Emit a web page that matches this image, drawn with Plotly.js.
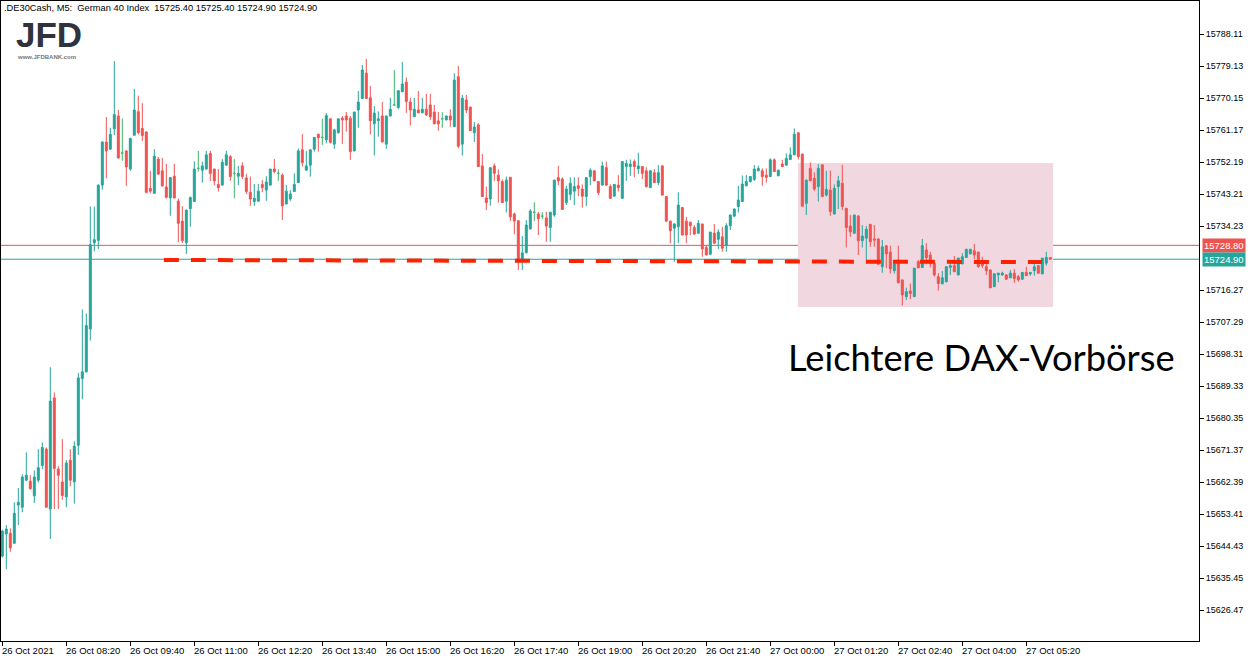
<!DOCTYPE html>
<html>
<head>
<meta charset="utf-8">
<script src="https://cdn.plot.ly/plotly-3.0.1.min.js"></script>
<style>html,body{margin:0;padding:0;background:#fff;}#chart{width:1258px;height:663px;}</style>
</head>
<body>
<div id="chart"></div>
<script>
// ---- data: .DE30Cash M5 bars, 26 Oct 07:00 .. 27 Oct 05:50 ----
const open = [
15641.6,15647.8,15648.0,15645.2,15655.9,15655.3,15662.9,15662.6,15658.5,15662.9,
15667.0,15671.6,15654.8,15686.0,15666.0,15662.4,15658.2,15668.5,15662.4,15672.7,
15691.4,15693.3,15705.3,15729.5,15730.2,15745.7,15757.8,15755.8,15761.5,15765.1,
15754.7,15755.3,15750.2,15759.7,15766.3,15761.6,15760.6,15744.8,15743.4,15753.0,
15749.7,15745.2,15742.1,15748.2,15741.2,15735.6,15729.5,15739.1,15741.1,15750.4,
15749.9,15750.2,15754.6,15750.2,15745.9,15745.7,15751.3,15753.7,15749.0,15748.2,
15751.1,15747.7,15743.7,15741.1,15741.2,15745.9,15744.3,15745.7,15750.2,15749.0,
15748.5,15740.4,15741.8,15743.9,15746.4,15755.6,15749.9,15751.3,15755.8,15760.0,
15759.1,15758.4,15764.3,15757.2,15760.4,15764.5,15765.1,15764.5,15755.3,15766.8,
15770.0,15777.1,15770.2,15762.9,15763.8,15765.1,15757.2,15765.1,15768.2,15767.5,
15771.9,15774.6,15769.0,15764.9,15766.8,15766.0,15767.0,15768.2,15766.2,15763.7,
15764.3,15764.0,15765.1,15762.1,15776.1,15757.2,15769.6,15767.6,15760.4,15762.6,
15751.1,15742.1,15741.8,15751.1,15748.5,15746.7,15741.2,15747.9,15737.6,15735.7,
15724.9,15726.7,15733.4,15738.1,15737.6,15737.0,15736.5,15733.8,15737.3,15747.8,
15747.4,15740.8,15743.1,15744.0,15745.5,15744.6,15742.5,15748.1,15749.7,15746.7,
15745.7,15750.6,15745.3,15742.6,15745.7,15742.0,15750.9,15750.9,15752.3,15750.3,
15750.9,15749.7,15745.0,15749.2,15746.4,15751.1,15742.5,15735.6,15733.6,15734.0,
15739.4,15735.6,15735.3,15733.8,15732.2,15734.8,15728.2,15726.3,15732.2,15730.5,
15731.2,15728.7,15734.3,15737.0,15739.7,15741.1,15745.5,15746.7,15747.3,15749.7,
15749.7,15748.5,15748.1,15752.8,15748.3,15751.6,15751.3,15752.9,15754.2,15760.4,
15754.4,15740.6,15750.4,15747.6,15745.3,15751.4,15742.9,15744.3,15737.6,15745.3,
15746.2,15739.2,15734.2,15732.2,15737.0,15730.1,15730.8,15734.7,15730.6,15730.6,
15722.8,15728.7,15726.9,15721.7,15724.7,15719.1,15714.4,15716.0,15714.4,15724.2,
15722.6,15727.5,15726.1,15723.8,15720.0,15718.0,15718.6,15722.6,15723.1,15720.5,
15723.6,15725.4,15726.4,15727.3,15726.9,15724.2,15722.8,15721.9,15717.2,15720.5,
15720.5,15720.5,15719.7,15721.0,15720.0,15719.3,15721.2,15720.8,15721.7,15723.1,
15720.8,15723.8,15725.4
];
const high = [
15649.0,15650.3,15649.4,15656.7,15660.7,15664.5,15670.7,15664.3,15665.6,15671.6,
15673.5,15672.1,15694.6,15687.5,15666.8,15674.4,15668.5,15671.6,15673.8,15693.0,
15710.8,15709.7,15739.7,15739.7,15745.9,15758.0,15764.8,15761.8,15780.5,15766.8,
15764.4,15755.5,15759.0,15772.7,15770.8,15768.7,15760.8,15749.7,15755.8,15753.6,
15753.3,15751.7,15747.9,15751.7,15741.9,15739.8,15738.8,15742.5,15752.4,15755.3,
15752.3,15755.3,15755.3,15750.3,15750.2,15753.0,15755.3,15754.1,15753.0,15751.1,
15752.1,15748.8,15748.1,15746.0,15746.0,15747.1,15748.2,15750.3,15753.0,15750.2,
15749.0,15745.7,15744.3,15749.0,15756.0,15760.0,15755.3,15755.7,15759.2,15760.1,
15764.3,15765.9,15764.4,15761.5,15764.4,15765.1,15766.2,15765.1,15766.3,15772.1,
15779.4,15781.1,15773.5,15767.9,15766.4,15769.0,15765.2,15770.2,15778.0,15772.3,
15780.3,15775.9,15770.2,15770.2,15772.1,15770.2,15771.3,15771.3,15768.2,15766.2,
15766.2,15765.2,15767.0,15777.1,15779.1,15771.0,15771.0,15767.7,15763.4,15763.1,
15754.4,15745.3,15750.7,15751.8,15750.1,15747.3,15748.1,15747.9,15738.0,15735.9,
15731.4,15735.9,15739.0,15740.9,15738.2,15738.1,15738.2,15738.2,15747.2,15751.1,
15747.9,15745.5,15747.9,15747.9,15747.9,15745.9,15747.9,15750.4,15749.9,15746.8,
15752.3,15752.3,15745.9,15746.0,15748.5,15752.4,15752.8,15752.9,15752.9,15754.8,
15751.0,15750.7,15749.9,15750.2,15751.3,15751.3,15742.5,15735.7,15735.0,15743.7,
15739.5,15736.8,15735.4,15734.5,15735.9,15734.9,15728.9,15732.6,15734.8,15733.3,
15734.0,15735.0,15737.5,15739.1,15745.5,15748.4,15748.5,15748.2,15751.3,15751.1,
15750.4,15750.4,15753.2,15753.2,15750.0,15752.8,15754.6,15756.3,15761.6,15760.5,
15754.5,15747.2,15752.1,15749.3,15751.6,15751.4,15749.7,15749.8,15745.9,15748.3,
15751.4,15739.3,15737.3,15737.4,15737.3,15734.5,15734.2,15734.8,15734.5,15730.7,
15730.3,15728.8,15728.7,15724.7,15728.7,15719.2,15716.9,15718.1,15722.4,15724.7,
15730.6,15729.4,15727.0,15723.8,15721.0,15721.6,15722.9,15724.2,15725.8,15725.4,
15726.6,15727.8,15727.8,15729.2,15727.0,15725.6,15723.8,15722.0,15720.9,15721.1,
15721.4,15720.7,15721.9,15722.1,15720.5,15721.3,15722.8,15721.3,15723.8,15723.2,
15725.3,15727.0,15725.4
];
const low = [
15641.2,15637.9,15642.8,15645.0,15650.3,15653.9,15662.6,15660.3,15656.5,15662.2,
15666.0,15655.2,15646.4,15654.8,15654.8,15657.4,15655.3,15661.2,15656.3,15670.0,
15685.6,15693.1,15702.1,15727.1,15727.8,15744.4,15747.6,15755.6,15759.7,15753.2,
15752.5,15745.5,15749.7,15759.6,15759.9,15758.1,15743.4,15743.4,15743.3,15748.6,
15745.3,15741.9,15737.1,15742.0,15729.7,15729.5,15726.4,15734.0,15741.0,15749.5,
15746.4,15750.1,15746.9,15745.7,15743.9,15745.6,15751.2,15746.9,15742.0,15745.7,
15747.4,15743.2,15739.9,15739.9,15741.0,15743.7,15741.3,15745.6,15749.0,15746.9,
15735.9,15740.3,15741.3,15743.8,15746.3,15750.9,15749.8,15748.1,15755.1,15755.1,
15757.0,15757.4,15757.4,15755.9,15760.2,15757.2,15760.7,15752.8,15755.2,15761.8,
15769.9,15769.9,15759.9,15754.0,15759.3,15757.7,15755.9,15765.0,15768.1,15767.0,
15771.8,15766.0,15762.4,15764.8,15765.9,15765.9,15765.1,15764.0,15762.8,15761.0,
15761.8,15763.9,15762.1,15762.0,15756.0,15754.0,15765.9,15760.9,15757.8,15750.8,
15742.4,15738.7,15739.9,15746.9,15740.8,15740.7,15738.0,15735.6,15731.9,15721.9,
15721.9,15726.6,15733.3,15735.6,15731.7,15736.1,15729.8,15729.8,15736.8,15745.7,
15738.8,15740.1,15741.5,15740.1,15742.6,15739.4,15739.8,15745.7,15746.8,15742.9,
15745.6,15745.5,15741.9,15742.5,15743.9,15741.8,15746.9,15748.3,15747.9,15748.8,
15747.4,15745.0,15744.9,15746.3,15745.7,15742.8,15735.3,15729.4,15724.2,15729.4,
15731.6,15729.4,15731.7,15731.7,15732.1,15725.6,15726.0,15726.2,15729.3,15727.8,
15727.0,15727.0,15733.1,15736.8,15738.0,15741.0,15745.4,15746.4,15746.9,15749.6,
15745.5,15746.4,15748.0,15749.4,15748.3,15750.8,15751.2,15752.8,15754.1,15752.9,
15739.8,15737.3,15746.8,15744.1,15741.1,15742.3,15742.5,15737.1,15737.5,15739.0,
15738.7,15728.2,15731.2,15732.0,15726.1,15728.2,15724.7,15728.4,15728.4,15723.4,
15721.1,15722.4,15720.9,15720.9,15718.2,15711.9,15713.5,15713.7,15714.3,15722.4,
15722.5,15723.5,15722.6,15720.0,15716.1,15717.9,15718.4,15720.5,15721.3,15720.4,
15723.5,15725.3,15726.3,15724.9,15722.5,15722.4,15720.5,15716.8,15717.1,15718.4,
15720.2,15719.2,15719.6,15718.3,15718.6,15719.2,15720.2,15720.3,15720.3,15720.8,
15720.7,15723.1,15724.9
];
const close = [
15648.6,15649.2,15643.9,15653.6,15656.7,15663.8,15664.3,15660.5,15663.8,15666.4,
15672.1,15655.3,15685.1,15666.2,15664.3,15658.6,15667.7,15662.9,15672.4,15691.6,
15693.3,15706.3,15729.0,15730.4,15745.7,15757.8,15755.3,15759.9,15765.5,15753.3,
15754.7,15750.8,15758.8,15766.8,15760.4,15759.6,15743.7,15744.0,15753.8,15748.8,
15745.5,15742.3,15747.8,15742.1,15735.0,15730.1,15738.7,15742.2,15750.2,15750.4,
15751.1,15754.2,15749.0,15746.9,15745.0,15752.1,15754.2,15748.1,15749.0,15749.0,
15748.1,15743.9,15741.8,15742.0,15744.0,15745.0,15746.6,15750.2,15749.5,15749.0,
15739.9,15744.0,15743.2,15745.9,15755.3,15752.0,15751.1,15755.6,15759.1,15759.0,
15759.1,15765.2,15757.7,15761.2,15764.3,15764.0,15764.0,15755.1,15766.2,15769.0,
15778.0,15770.0,15763.8,15765.9,15764.3,15757.8,15765.1,15767.0,15768.2,15772.2,
15774.1,15769.2,15766.8,15767.0,15766.0,15767.0,15765.4,15764.9,15762.9,15762.9,
15764.3,15765.1,15764.0,15775.2,15756.6,15770.1,15766.8,15761.0,15762.0,15750.9,
15742.5,15740.8,15750.6,15749.0,15746.9,15740.8,15747.1,15736.8,15735.6,15724.9,
15726.7,15734.5,15738.4,15738.1,15736.3,15737.0,15734.2,15738.1,15747.1,15746.9,
15738.9,15744.6,15746.2,15745.3,15744.8,15742.6,15747.8,15749.9,15746.9,15743.6,
15751.1,15745.7,15742.0,15745.9,15745.0,15752.3,15751.8,15751.6,15750.9,15751.1,
15749.0,15745.3,15749.7,15746.4,15749.2,15742.9,15735.6,15732.9,15734.8,15740.1,
15731.7,15731.7,15734.3,15732.0,15735.0,15727.8,15726.1,15732.5,15729.4,15732.5,
15728.0,15734.3,15737.3,15739.0,15741.5,15746.0,15746.7,15748.1,15750.2,15750.4,
15748.1,15747.9,15752.8,15749.5,15749.9,15750.9,15753.2,15754.2,15760.0,15753.7,
15739.8,15747.1,15746.9,15744.6,15750.4,15742.5,15744.5,15738.3,15744.8,15746.9,
15739.7,15733.8,15732.6,15737.3,15730.1,15731.4,15733.3,15729.8,15730.3,15723.5,
15728.4,15726.4,15722.2,15723.6,15718.3,15714.9,15715.8,15715.3,15722.4,15722.5,
15728.7,15725.3,15723.6,15720.5,15718.1,15719.7,15722.8,15723.1,15721.4,15725.2,
15725.6,15727.7,15727.7,15726.1,15722.8,15723.1,15721.7,15716.9,15720.8,15721.0,
15721.0,15719.3,15721.0,15719.5,15719.1,15721.2,15720.3,15721.2,15722.8,15721.0,
15725.2,15725.4,15724.9
];
const timeTickBars = [0,16,32,48,64,80,96,112,128,144,160,176,192,208,224,240,256];
const timeTickLabels = ["26 Oct 2021","26 Oct 08:20","26 Oct 09:40","26 Oct 11:00","26 Oct 12:20",
  "26 Oct 13:40","26 Oct 15:00","26 Oct 16:20","26 Oct 17:40","26 Oct 19:00","26 Oct 20:20",
  "26 Oct 21:40","27 Oct 00:00","27 Oct 01:20","27 Oct 02:40","27 Oct 04:00","27 Oct 05:20"];
const priceTicks = [15788.11,15779.13,15770.15,15761.17,15752.19,15743.21,15734.23,15716.27,
  15707.29,15698.31,15689.33,15680.35,15671.37,15662.39,15653.41,15644.43,15635.45,15626.47];
const priceTickLabels = priceTicks.map(v => v.toFixed(2));
const askLevel = 15728.80;
const bidLevel = 15724.90;
const supportLine = {x0: 40.4, y0: 15724.7, x1: 259.9, y1: 15724.1};
const boxZone = {x0: 198.9, x1: 262.7, y0: 15711.5, y1: 15751.9};
const headerText = ".DE30Cash, M5:\u00a0\u00a0German 40 Index\u00a0\u00a015725.40 15725.40 15724.90 15724.90";
const captionText = "Leichtere DAX-Vorbörse";

// ---- colours ----
const UP = '#26a69a', DOWN = '#ef5350', DOJI = '#3fb56b';

const idx = open.map((_, i) => i);
const isDoji = idx.map(i => open[i] === close[i]);
function pick(arr, want) { return idx.filter(i => isDoji[i] === want).map(i => arr[i]); }

const mainTrace = {
  type: 'candlestick',
  x: pick(idx, false), open: pick(open, false), high: pick(high, false),
  low: pick(low, false), close: pick(close, false),
  increasing: {line: {color: UP, width: 1}, fillcolor: UP},
  decreasing: {line: {color: DOWN, width: 1}, fillcolor: DOWN},
  whiskerwidth: 0, hoverinfo: 'skip', showlegend: false
};
const dojiTrace = {
  type: 'candlestick',
  x: pick(idx, true), open: pick(open, true), high: pick(high, true),
  low: pick(low, true), close: pick(close, true),
  increasing: {line: {color: DOJI, width: 1}, fillcolor: DOJI},
  decreasing: {line: {color: DOJI, width: 1}, fillcolor: DOJI},
  whiskerwidth: 0, hoverinfo: 'skip', showlegend: false
};

const axisFont = {family: 'Liberation Sans, Arial, sans-serif', size: 9, color: '#000'};
const timeFont = {family: 'Liberation Sans, Arial, sans-serif', size: 9.5, color: '#000'};

const annotations = timeTickBars.map((b, k) => ({
  x: b, xref: 'x', y: 0, yref: 'paper', yanchor: 'top', xanchor: 'left',
  xshift: -2, yshift: -2, text: timeTickLabels[k], showarrow: false, font: timeFont
}));
annotations.push({
  x: 0, xref: 'paper', y: 1, yref: 'paper', xanchor: 'left', yanchor: 'top',
  xshift: 1, yshift: 0, text: headerText, showarrow: false,
  font: {family: 'Liberation Sans, Arial, sans-serif', size: 9.3, color: '#000'}
});
annotations.push({
  x: 0.0105, xref: 'paper', y: 0.982, yref: 'paper', xanchor: 'left', yanchor: 'top',
  text: '<b>JFD</b>', showarrow: false,
  font: {family: 'Liberation Sans, Arial, sans-serif', size: 35, color: '#2f333d'}
});
annotations.push({
  x: 0.0115, xref: 'paper', y: 0.921, yref: 'paper', xanchor: 'left', yanchor: 'top',
  text: '<b>www.JFDBANK.com</b>', showarrow: false,
  font: {family: 'Liberation Sans, Arial, sans-serif', size: 6, color: '#777'}
});
annotations.push({
  x: 0.6555, xref: 'paper', y: 0.444, yref: 'paper', xanchor: 'left', yanchor: 'middle',
  text: captionText, showarrow: false,
  font: {family: 'Lato, sans-serif', size: 36.3, color: '#000'}
});
[[askLevel, DOWN], [bidLevel, UP]].forEach(([lvl, col]) => {
  annotations.push({
    x: 1, xref: 'paper', y: lvl, yref: 'y', xanchor: 'left', yanchor: 'middle',
    xshift: 3, text: lvl.toFixed(2), showarrow: false, bgcolor: col,
    borderpad: 1, font: {family: 'Liberation Sans, Arial, sans-serif', size: 9.5, color: '#fff'}
  });
});

const shapes = [
  {type: 'rect', xref: 'x', yref: 'y', x0: boxZone.x0, x1: boxZone.x1, y0: boxZone.y0, y1: boxZone.y1,
   fillcolor: '#f0d7e0', line: {width: 0}, layer: 'below'},
  {type: 'line', xref: 'paper', yref: 'y', x0: 0, x1: 1, y0: askLevel, y1: askLevel,
   line: {color: DOWN, width: 1}, layer: 'below'},
  {type: 'line', xref: 'paper', yref: 'y', x0: 0, x1: 1, y0: bidLevel, y1: bidLevel,
   line: {color: UP, width: 1}, layer: 'below'},
  {type: 'line', xref: 'x', yref: 'y', x0: supportLine.x0, x1: supportLine.x1,
   y0: supportLine.y0, y1: supportLine.y1,
   line: {color: '#ff2200', width: 4, dash: '15px,12px'}, layer: 'above'}
];

const layout = {
  width: 1258, height: 663,
  margin: {l: 1, r: 59, t: 1, b: 22, pad: 0},
  paper_bgcolor: '#fff', plot_bgcolor: '#fff',
  showlegend: false,
  xaxis: {
    range: [-0.325, 299.175], showgrid: false, zeroline: false,
    rangeslider: {visible: false},
    tickvals: timeTickBars, ticktext: timeTickLabels, showticklabels: false,
    ticks: 'outside', ticklen: 4, tickcolor: '#000', tickwidth: 1,
    showline: true, linecolor: '#000', linewidth: 1, mirror: true
  },
  yaxis: {
    range: [15617.77, 15797.37], side: 'right', showgrid: false, zeroline: false,
    tickvals: priceTicks, ticktext: priceTickLabels, tickfont: axisFont,
    ticks: 'outside', ticklen: 4, tickcolor: '#000', tickwidth: 1,
    showline: true, linecolor: '#000', linewidth: 1, mirror: true
  },
  shapes: shapes,
  annotations: annotations
};

Plotly.newPlot('chart', [mainTrace, dojiTrace], layout, {staticPlot: true, displayModeBar: false});
</script>
</body>
</html>
